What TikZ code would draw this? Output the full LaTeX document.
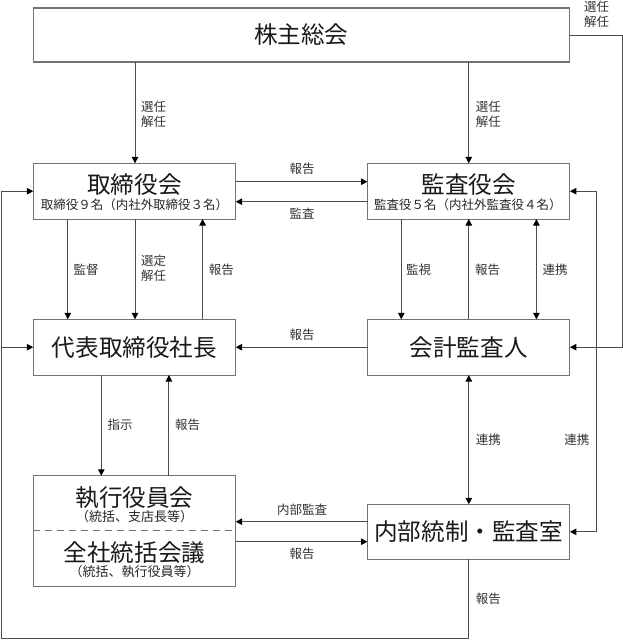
\documentclass[tikz,border=0pt]{standalone}
\usepackage{fontspec}
\setmainfont{Noto Sans CJK JP}
\usetikzlibrary{arrows.meta}
\begin{document}
\begin{tikzpicture}[x=1pt,y=-1pt,
  box/.style={draw=black!55,line width=1.1pt,minimum width=202.4pt,minimum height=55.7pt,inner sep=0pt,outer sep=0pt},
  ttl/.style={font=\fontsize{23.6}{26}\selectfont,inner sep=0pt,text=black!90},
  sub/.style={font=\fontsize{12.5}{14}\selectfont,inner sep=0pt,text=black!85},
  subb/.style={font=\fontsize{13}{14}\selectfont,inner sep=0pt,text=black!85},
  lab/.style={font=\fontsize{12.5}{15}\selectfont,inner sep=0pt,align=left,anchor=west,text=black!80},
  conn/.style={draw=black!70,line width=1pt},
  arr/.style={conn,-{Triangle[length=6.5pt,width=6.5pt,color=black]}},
  arrb/.style={conn,{Triangle[length=6.5pt,width=6.5pt,color=black]}-{Triangle[length=6.5pt,width=6.5pt,color=black]}},
  dsh/.style={draw=black!55,line width=1pt,dash pattern=on 7pt off 5pt}
]
\useasboundingbox (0,0) rectangle (623,640);

% columns and rows
\coordinate (k1) at (67.8,0);
\coordinate (k2) at (135,0);
\coordinate (k3) at (202.6,0);
\coordinate (k4) at (101.3,0);
\coordinate (k5) at (168.9,0);
\coordinate (m1) at (401.3,0);
\coordinate (m2) at (468.8,0);
\coordinate (m3) at (536.4,0);
\coordinate (r1) at (596,0);
\coordinate (r2) at (622,0);
\coordinate (l1) at (1.5,0);
\coordinate (h1) at (0,181.7);
\coordinate (h2) at (0,201.7);
\coordinate (h3) at (0,521.7);
\coordinate (h4) at (0,541.7);
\coordinate (bot) at (0,638.8);

% boxes
\node[box,ttl,minimum width=536pt,minimum height=54pt] (A) at (301.3,35) {株主総会};
\node[box] (B) at (134.5,191.2) {};
\node[ttl] (Bt) at (134.5,185) {取締役会};
\node[sub] (Bs) at (134.5,204.3) {取締役９名（内社外取締役３名）};
\node[box] (C) at (468.7,191.2) {};
\node[ttl] (Ct) at (468.7,185) {監査役会};
\node[sub] (Cs) at (467.8,204.3) {監査役５名（内社外監査役４名）};
\node[box,ttl] (D) at (134.5,347.2) {代表取締役社長};
\node[box,ttl] (E) at (468.7,347.2) {会計監査人};
\node[box,minimum height=110.3pt] (F) at (134.5,530.9) {};
\node[ttl] (Ft1) at (134.5,498) {執行役員会};
\node[subb] (Fs1) at (134.5,516.7) {（統括、支店長等）};
\node[ttl] (Ft2) at (134.5,552.7) {全社統括会議};
\node[subb] (Fs2) at (134.5,571.7) {（統括、執行役員等）};
\draw[dsh] (F.west) -- (F.east);
\node[box,ttl,minimum height=55pt] (G) at (468.7,531.8) {内部統制・監査室};

% shareholders -> boards
\draw[arr] (A.south -| k2) -- (B.north -| k2);
\node[lab] (L1) at (141,114.2) {選任\\解任};
\draw[arr] (A.south -| m2) -- (C.north -| m2);
\node[lab] (L2) at (475.6,114.2) {選任\\解任};

% board <-> auditors
\draw[arr] (B.east |- h1) -- (C.west |- h1);
\node[lab,anchor=center] (L3) at (302,169.3) {報告};
\draw[arr] (C.west |- h2) -- (B.east |- h2);
\node[lab,anchor=center] (L4) at (302,213.3) {監査};

% board <-> president
\draw[arr] (B.south -| k1) -- (D.north -| k1);
\node[lab] (L5) at (73.5,270) {監督};
\draw[arr] (B.south -| k2) -- (D.north -| k2);
\node[lab] (L6) at (141,268.3) {選定\\解任};
\draw[arr] (D.north -| k3) -- (B.south -| k3);
\node[lab] (L7) at (208.6,270) {報告};

% auditors <-> accounting auditor
\draw[arr] (C.south -| m1) -- (E.north -| m1);
\node[lab] (L8) at (406,270) {監視};
\draw[arr] (E.north -| m2) -- (C.south -| m2);
\node[lab] (L9) at (474.8,270) {報告};
\draw[arrb] (C.south -| m3) -- (E.north -| m3);
\node[lab] (L10) at (542.3,270) {連携};

% accounting auditor -> president
\draw[arr] (E.west) -- (D.west -| D.east);
\node[lab,anchor=center] (L11) at (302,335) {報告};

% president <-> executive
\draw[arr] (D.south -| k4) -- (F.north -| k4);
\node[lab] (L12) at (107.3,425) {指示};
\draw[arr] (F.north -| k5) -- (D.south -| k5);
\node[lab] (L13) at (174.8,425) {報告};

% accounting auditor <-> internal audit
\draw[arrb] (E.south -| m2) -- (G.north -| m2);
\node[lab] (L14) at (475.6,440) {連携};

% internal audit <-> executive
\draw[arr] (G.west |- h3) -- (F.east |- h3);
\node[lab,anchor=center] (L15) at (302,509.3) {内部監査};
\draw[arr] (F.east |- h4) -- (G.west |- h4);
\node[lab,anchor=center] (L16) at (302,553.3) {報告};

% internal audit -> bottom loop -> board / president
\draw[arr] (G.south -| m2) -- (m2 |- bot) -- (l1 |- bot) -- (l1 |- B.west) -- (B.west);
\draw[arr] (l1 |- D.west) -- (D.west);
\node[lab] (L17) at (475.6,599) {報告};

% shareholders -> accounting auditor (right loop)
\draw[arr] (A.east) -- (r2 |- A.east) -- (r2 |- E.east) -- (E.east);
\node[lab] (L18) at (584,14.5) {選任\\解任};

% auditors <-> internal audit (right loop)
\draw[arrb] (C.east) -- (r1 |- C.east) -- (r1 |- G.east) -- (G.east);
\node[lab] (L19) at (564.2,440) {連携};
\end{tikzpicture}
\end{document}
